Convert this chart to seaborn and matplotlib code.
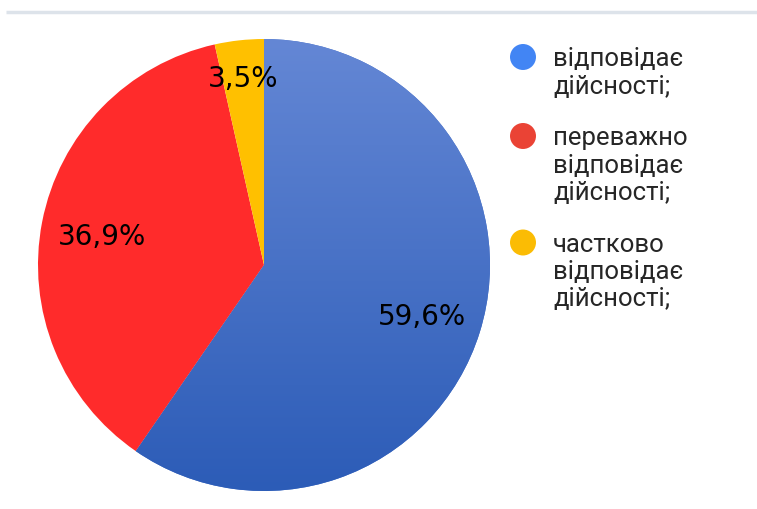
import numpy as np
import matplotlib.pyplot as plt
import seaborn as sns
from matplotlib.colors import LinearSegmentedColormap

sns.set_theme(style="white")
plt.rcParams["font.family"] = ["Roboto", "DejaVu Sans"]

# data
labels = ["відповідає\nдійсності;",
          "переважно\nвідповідає\nдійсності;",
          "частково\nвідповідає\nдійсності;"]
shares = [59.6, 36.9, 3.5]
slice_colors = ["#4470c8", "#ff2b2b", "#ffc000"]
legend_colors = ["#4285f4", "#ea4335", "#fbbc04"]

W, H = 757, 509
fig = plt.figure(figsize=(W / 100, H / 100), dpi=100)
ax = fig.add_axes([0, 0, 1, 1])

cx, cy, r = 264, H - 265, 226
wedges, _, pct = ax.pie(
    shares,
    colors=slice_colors,
    startangle=90,
    counterclock=False,
    center=(cx, cy),
    radius=r,
    frame=True,
    wedgeprops=dict(linewidth=0, edgecolor="none"),
    autopct=lambda p: f"{p:.1f}%".replace(".", ","),
    pctdistance=0.73,
    textprops=dict(family="DejaVu Sans", fontsize=20, color="black"),
)

# vertical gradient on the blue slice
blue_cmap = LinearSegmentedColormap.from_list("blue", ["#6487d5", "#2c5cb7"])
grad = np.linspace(0, 1, 256).reshape(-1, 1)
im = ax.imshow(grad, extent=(cx - r, cx + r, cy - r, cy + r), cmap=blue_cmap,
               aspect="auto", zorder=wedges[0].get_zorder() + 0.5)
im.set_clip_path(wedges[0])
for t in pct:
    t.set_zorder(5)
    t.set_va("center_baseline")

# small slice label sits further out
x, y = pct[2].get_position()
k = 0.84 / 0.73
pct[2].set_position((cx + (x - cx) * k, cy + (y - cy) * k))

ax.set_xlim(0, W)
ax.set_ylim(0, H)
ax.set_aspect("equal")
ax.axis("off")

# top border line
ax.plot([6, W], [H - 12, H - 12], color="#dde3ea", lw=2.5, solid_capstyle="butt")

# legend
line_h = 27.5
gap = 24
y0 = 59
for lab, col in zip(labels, legend_colors):
    lines = lab.split("\n")
    ax.scatter([523], [H - y0 + 2], s=350, color=col, edgecolor="none", zorder=6)
    for i, ln in enumerate(lines):
        ax.text(553, H - (y0 + i * line_h), ln, fontsize=18.5, color="#262626",
                va="center", ha="left")
    y0 += len(lines) * line_h + gap

plt.savefig("out.png", dpi=100)
